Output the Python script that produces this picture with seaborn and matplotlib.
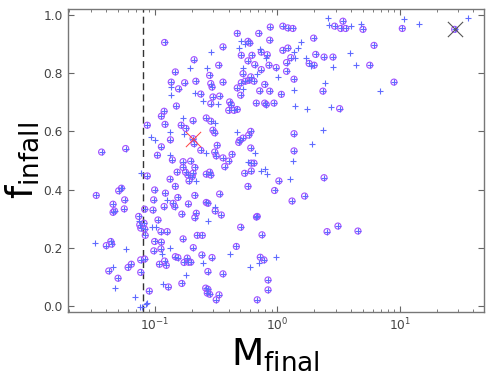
import matplotlib
matplotlib.use("Agg")
import matplotlib.pyplot as plt
import pandas as pd
import seaborn as sns

# ---- data ----
m_circled = [0.120, 0.209, 0.147, 0.136, 0.175, 0.216, 0.156, 0.237, 0.150, 0.119, 0.113, 0.205,
             0.263, 0.0867, 0.121, 0.164, 0.179, 0.134, 0.205, 0.209, 0.0367, 0.0577, 0.113, 0.237,
             0.105,
             2.94, 3.30, 3.44, 3.62, 0.471, 0.705, 0.877, 1.11, 1.22, 1.34, 0.867, 0.576, 0.595,
             0.360, 1.98, 1.22, 1.11, 1.29, 2.06, 2.41, 2.85, 0.508, 0.621, 0.740, 0.828, 0.576,
             0.654, 0.332, 0.855, 0.98, 1.19, 1.19, 0.740, 0.525, 1.82, 2.0, 0.280, 0.607, 0.584,
             0.548, 0.645, 0.508, 1.37, 0.789, 0.360, 0.286, 0.293, 0.471, 0.718, 0.867, 2.36,
             0.502, 1.08, 0.338, 0.298, 0.286, 0.408, 0.421, 0.674, 0.789, 0.813, 0.94, 3.23,
             0.401, 0.443, 0.471, 0.286, 0.298, 0.308, 0.607, 0.584, 0.525, 0.493, 0.484, 1.37,
             0.323, 0.607, 1.37, 0.427, 0.308, 0.317, 0.360,
             5.01, 10.5, 28.1, 6.17, 5.69, 8.98, 4.56,
             0.613, 0.645, 0.401, 0.372, 0.541, 0.613, 0.280, 0.286, 2.41, 1.03, 0.576, 0.95,
             0.338, 1.67, 1.32, 0.271, 0.311, 0.349, 0.686, 0.676, 0.502, 3.13, 2.55, 0.750,
             0.463, 0.293, 0.726, 0.778, 0.271, 0.360, 0.84, 0.84, 0.271, 0.280, 0.334, 0.317,
             0.686,
             0.139, 0.170, 0.196, 0.212, 0.170, 0.152, 0.178, 0.186, 0.205, 0.202, 0.0867, 0.263,
             0.133, 0.147, 0.190, 0.0995, 0.0506, 0.0533, 0.0332, 0.122, 0.212, 0.154, 0.0977,
             0.141, 0.145, 0.0566, 0.0455, 0.0468, 0.0455, 0.0562, 0.119, 0.188, 0.263, 0.0825,
             0.0965, 0.218, 0.212, 0.166, 0.0737, 0.0752, 0.0766, 0.0815, 0.0825, 0.106, 0.112,
             0.126, 0.0834, 0.170, 0.222, 0.244, 0.0401, 0.0436, 0.0443, 0.0995, 0.113, 0.112,
             0.098, 0.147, 0.154, 0.206, 0.242, 0.184, 0.188, 0.173, 0.196, 0.0766, 0.0825,
             0.109, 0.120, 0.124, 0.0642, 0.0604, 0.0420, 0.0766, 0.050, 0.166, 0.129, 0.090,
             0.260, 0.268]
f_circled = [0.905, 0.846, 0.804, 0.769, 0.767, 0.772, 0.746, 0.728, 0.687, 0.669, 0.652, 0.637,
             0.646, 0.621, 0.624, 0.621, 0.610, 0.571, 0.575, 0.558, 0.529, 0.541, 0.547, 0.535,
             0.518,
             0.961, 0.953, 0.978, 0.953, 0.936, 0.936, 0.958, 0.961, 0.955, 0.953, 0.913, 0.909,
             0.903, 0.890, 0.920, 0.886, 0.878, 0.853, 0.864, 0.855, 0.855, 0.861, 0.861, 0.872,
             0.863, 0.842, 0.829, 0.827, 0.827, 0.819, 0.836, 0.806, 0.812, 0.798, 0.833, 0.827,
             0.792, 0.787, 0.775, 0.772, 0.772, 0.767, 0.779, 0.761, 0.769, 0.764, 0.752, 0.749,
             0.739, 0.738, 0.738, 0.724, 0.727, 0.721, 0.718, 0.695, 0.701, 0.692, 0.697, 0.697,
             0.692, 0.697, 0.678, 0.672, 0.672, 0.675, 0.635, 0.604, 0.595, 0.600, 0.587, 0.577,
             0.569, 0.562, 0.592, 0.552, 0.543, 0.533, 0.521, 0.529, 0.516, 0.509,
             0.950, 0.953, 0.950, 0.895, 0.827, 0.769, 0.258,
             0.491, 0.491, 0.498, 0.479, 0.456, 0.464, 0.460, 0.450, 0.441, 0.430, 0.411, 0.397,
             0.385, 0.378, 0.361, 0.353, 0.327, 0.313, 0.308, 0.306, 0.271, 0.275, 0.256, 0.245,
             0.205, 0.167, 0.168, 0.159, 0.119, 0.111, 0.090, 0.056, 0.058, 0.041, 0.039, 0.022,
             0.022,
             0.502, 0.496, 0.498, 0.476, 0.476, 0.460, 0.460, 0.450, 0.456, 0.445, 0.447, 0.453,
             0.436, 0.411, 0.430, 0.399, 0.396, 0.405, 0.380, 0.388, 0.380, 0.373, 0.365,
             0.353, 0.342, 0.365, 0.350, 0.327, 0.322, 0.334, 0.342, 0.351, 0.356, 0.333,
             0.330, 0.319, 0.304, 0.316, 0.308, 0.279, 0.268, 0.285, 0.265, 0.296, 0.256,
             0.256, 0.243, 0.231, 0.243, 0.243, 0.208, 0.222, 0.213, 0.222, 0.220, 0.197,
             0.190, 0.170, 0.167, 0.201, 0.176, 0.165, 0.151, 0.150, 0.151, 0.159, 0.162,
             0.144, 0.155, 0.140, 0.144, 0.133, 0.121, 0.116, 0.096, 0.078, 0.066, 0.052,
             0.062, 0.045]

m_plus_only = [0.194, 0.268, 0.136, 0.135, 0.212, 0.247, 0.170, 0.134, 0.0935, 0.1007, 0.173, 0.132,
               0.263,
               2.58, 2.63, 0.508, 0.548, 0.484, 0.289, 1.55, 1.48, 1.37, 1.40, 1.73, 0.718, 0.813,
               0.525, 1.01, 0.686, 1.87, 2.85, 0.525, 2.47, 1.37, 0.327, 1.40, 1.76, 2.73, 0.308,
               0.471, 2.36, 1.92, 0.654,
               3.98, 4.80, 10.8, 14.4, 36.1, 3.90, 4.42, 6.95,
               0.576, 1.34, 0.732, 0.789, 0.824, 1.28, 0.308, 0.271, 0.413, 0.98, 0.709, 0.602,
               0.0776, 0.216, 0.126, 0.0737, 0.0945, 0.103, 0.0322, 0.0436, 0.0584, 0.132, 0.115,
               0.247, 0.0455, 0.178, 0.117, 0.0476, 0.0693, 0.0753, 0.0787, 0.0843, 0.0865, 0.0537]
f_plus_only = [0.818, 0.818, 0.752, 0.724, 0.732, 0.704, 0.646, 0.598, 0.579, 0.571, 0.592, 0.518,
               0.524,
               0.989, 0.964, 0.909, 0.901, 0.887, 0.872, 0.907, 0.886, 0.872, 0.853, 0.852, 0.884,
               0.850, 0.819, 0.787, 0.798, 0.823, 0.821, 0.747, 0.767, 0.743, 0.693, 0.687, 0.678,
               0.682, 0.630, 0.598, 0.604, 0.555, 0.524,
               0.962, 0.970, 0.987, 0.970, 0.990, 0.870, 0.827, 0.739,
               0.496, 0.498, 0.464, 0.471, 0.455, 0.436, 0.339, 0.293, 0.178, 0.168, 0.148, 0.136,
               0.456, 0.428, 0.363, 0.291, 0.273, 0.273, 0.216, 0.224, 0.197, 0.199, 0.178,
               0.148, 0.136, 0.107, 0.075, 0.061, 0.032, -0.002, -0.002, 0.009, 0.011, 0.407]

m_red_cross = [0.206]
f_red_cross = [0.574]
m_black_cross = [28.1]
f_black_cross = [0.950]
m_cut = 0.08

x_label = r"$\mathregular{M_{final}}$"
y_label = r"$\mathregular{f_{infall}}$"
y_ticks = [0.0, 0.2, 0.4, 0.6, 0.8, 1.0]

# ---- style ----
sns.set_style("white")
plt.rcParams.update({
    "font.family": ["DejaVu Sans"],
    "xtick.direction": "in", "ytick.direction": "in",
    "xtick.top": True, "ytick.right": True,
    "xtick.bottom": True, "ytick.left": True,
    "xtick.major.size": 4, "ytick.major.size": 4,
    "xtick.minor.size": 2, "ytick.minor.size": 2,
    "xtick.major.width": 0.8, "ytick.major.width": 0.8,
    "xtick.minor.width": 0.6,
    "xtick.color": "#666666", "ytick.color": "#666666",
    "xtick.labelcolor": "#444444", "ytick.labelcolor": "#444444",
    "xtick.labelsize": 8.8, "ytick.labelsize": 8.8,
    "axes.edgecolor": "#777777", "axes.linewidth": 1.0,
    "axes.labelcolor": "black", "text.color": "black",
})

fig = plt.figure(figsize=(4.89, 3.73), dpi=100)
ax = fig.add_axes([0.139, 0.1635, 0.850, 0.8125])

df_circ = pd.DataFrame({"M": m_circled, "f": f_circled})
df_plus = pd.DataFrame({"M": m_circled + m_plus_only, "f": f_circled + f_plus_only})

sns.scatterplot(data=df_circ, x="M", y="f", marker="o", s=19, facecolors="none",
                edgecolor="#a650ff", color="#a650ff", linewidth=0.8, ax=ax, zorder=3)
sns.scatterplot(data=df_plus, x="M", y="f", marker="+", s=20, color="#5f6bff",
                linewidth=0.8, ax=ax, zorder=4)

ax.axvline(m_cut, color="#333333", linestyle=(0, (5, 3)), linewidth=1.0, zorder=2)

sns.scatterplot(x=m_red_cross, y=f_red_cross, marker="x", s=120, color="#ff4040",
                linewidth=0.7, ax=ax, zorder=5)
sns.scatterplot(x=m_black_cross, y=f_black_cross, marker="x", s=120, color="#555555",
                linewidth=0.8, ax=ax, zorder=5)

ax.set_xscale("log")
ax.set_xlim(0.0195, 48.5)
ax.set_ylim(-0.02, 1.02)
ax.set_yticks(y_ticks)
ax.set_xlabel(x_label, fontsize=27, labelpad=2)
ax.set_ylabel(y_label, fontsize=27, labelpad=2)
for sp in ax.spines.values():
    sp.set_visible(True)

fig.savefig("out.png", dpi=100)
